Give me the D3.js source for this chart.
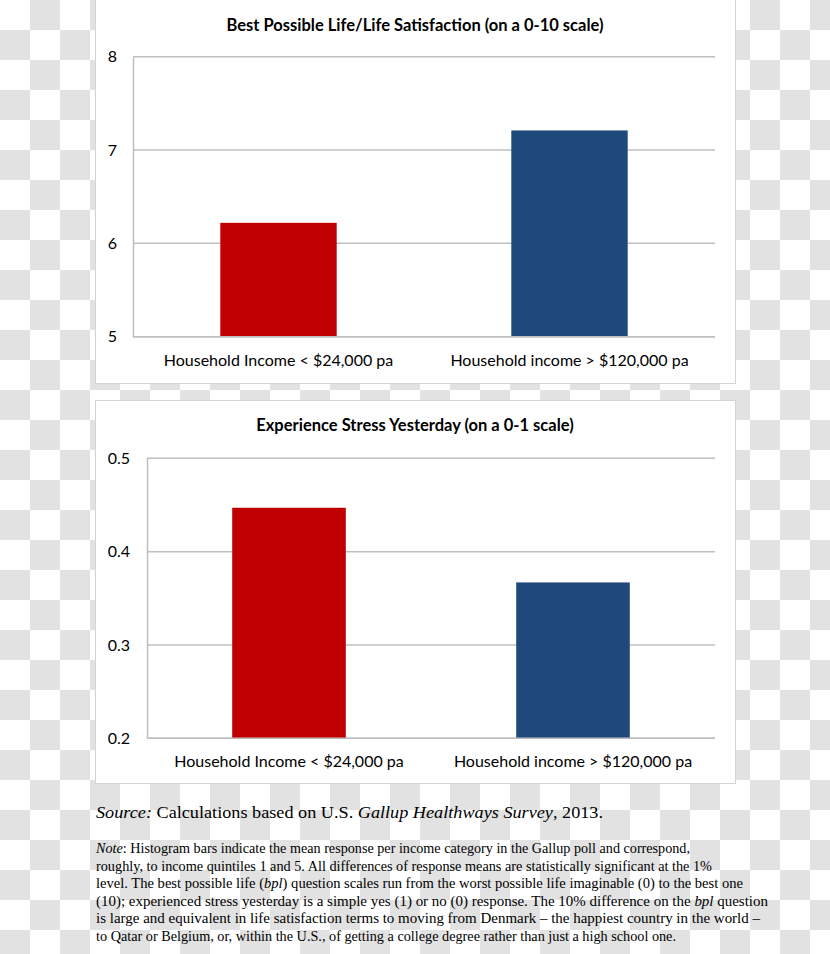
<!DOCTYPE html>
<html><head><meta charset="utf-8">
<script src="https://cdn.jsdelivr.net/npm/d3@7"></script>
<style>html,body{margin:0;padding:0;background:#fff;}svg{display:block;}</style>
</head><body>
<svg id="c" width="830" height="954"></svg>
<script>
const categories = ["Household Income < $24,000 pa", "Household income > $120,000 pa"];
const bplValues = [6.22, 7.21];
const stressValues = [0.447, 0.367];
const bplTicks = [5, 6, 7, 8];
const stressTicks = [0.2, 0.3, 0.4, 0.5];
const barColors = ["#C00000", "#1F497D"];
const titles = ["Best Possible Life/Life Satisfaction (on a 0-10 scale)", "Experience Stress Yesterday (on a 0-1 scale)"];
const sourceParts = [["Source:", true], [" Calculations based on U.S. ", false], ["Gallup Healthways Survey", true], [", 2013.", false]];
const noteLines = [
  [["Note", true], [": Histogram bars indicate the mean response per income category in the Gallup poll and correspond,", false]],
  [["roughly, to income quintiles 1 and 5. All differences of response means are statistically significant at the 1%", false]],
  [["level. The best possible life (", false], ["bpl", true], [") question scales run from the worst possible life imaginable (0) to the best one", false]],
  [["(10); experienced stress yesterday is a simple yes (1) or no (0) response. The 10% difference on the ", false], ["bpl", true], [" question", false]],
  [["is large and equivalent in life satisfaction terms to moving from Denmark \u2013 the happiest country in the world \u2013", false]],
  [["to Qatar or Belgium, or, within the U.S., of getting a college degree rather than just a high school one.", false]]
];
const noteWidths = [594, 616, 647, 672, 664, 580];

const svg = d3.select("#c");
// checkerboard background
const defs = svg.append("defs");
const pat = defs.append("pattern").attr("id","chk").attr("width",60).attr("height",60).attr("patternUnits","userSpaceOnUse");
pat.append("rect").attr("width",60).attr("height",60).attr("fill","#ffffff");
pat.append("rect").attr("x",30).attr("y",0).attr("width",30).attr("height",30).attr("fill","#e2e2e2");
pat.append("rect").attr("x",0).attr("y",30).attr("width",30).attr("height",30).attr("fill","#e2e2e2");
svg.append("rect").attr("width",830).attr("height",954).attr("fill","url(#chk)");

const font = "Lato, 'Open Sans', sans-serif";

function panel(cfg) {
  const g = svg.append("g");
  g.append("rect").attr("x", 95.5).attr("y", cfg.py0 + 0.5).attr("width", 640).attr("height", cfg.py1 - cfg.py0)
    .attr("fill", "#fff").attr("stroke", "#d4d4d4").attr("stroke-width", 1);
  g.append("text").attr("x", 415).attr("y", cfg.titleY).attr("text-anchor", "middle")
    .attr("font-family", font).attr("font-weight", "bold").attr("font-size", 16.5).attr("fill", "#000")
    .text(cfg.title);
  const y = d3.scaleLinear().domain(cfg.domain).range([cfg.y0, cfg.y1]);
  const x = d3.scaleBand().domain(categories).range([cfg.x0, 715]).paddingInner(0.6).paddingOuter(0.3);
  // gridlines
  g.append("g").selectAll("line").data(cfg.ticks).join("line")
    .attr("x1", cfg.x0).attr("x2", 715).attr("y1", d => y(d)).attr("y2", d => y(d))
    .attr("stroke", "#bfbfbf").attr("stroke-width", 1.5);
  // y axis
  const ya = d3.axisLeft(y).tickValues(cfg.ticks).tickSize(0).tickPadding(cfg.tickPad).tickFormat(cfg.fmt);
  const yg = g.append("g").attr("transform", `translate(${cfg.x0},0)`).call(ya);
  yg.select(".domain").attr("stroke", "#bfbfbf").attr("stroke-width", 1.5);
  yg.selectAll("text").attr("font-family", font).attr("font-size", 16).attr("fill", "#000");
  // bars
  g.append("g").selectAll("rect").data(cfg.values).join("rect")
    .attr("x", (d, i) => x(categories[i])).attr("width", x.bandwidth())
    .attr("y", d => y(d)).attr("height", d => y(cfg.domain[0]) - y(d))
    .attr("fill", (d, i) => barColors[i]);
  // baseline axis
  g.append("line").attr("x1", cfg.x0).attr("x2", 715).attr("y1", y(cfg.domain[0])).attr("y2", y(cfg.domain[0]))
    .attr("stroke", "#bfbfbf").attr("stroke-width", 1.5);
  // x axis labels
  const xa = d3.axisBottom(x).tickSize(0).tickPadding(cfg.labPad);
  const xg = g.append("g").attr("transform", `translate(0,${y(cfg.domain[0])})`).call(xa);
  xg.select(".domain").remove();
  xg.selectAll("text").attr("font-family", font).attr("font-size", 16).attr("fill", "#000");
}

panel({py0: -2, py1: 383, titleY: 31, title: titles[0], domain: [5, 8], ticks: bplTicks, y0: 336.7, y1: 56.7,
  x0: 133, values: bplValues, fmt: d3.format("d"), tickPad: 16, labPad: 18});
panel({py0: 400, py1: 783, titleY: 431, title: titles[1], domain: [0.2, 0.5], ticks: stressTicks, y0: 738.3, y1: 458.3,
  x0: 147, values: stressValues, fmt: d3.format(".1f"), tickPad: 17, labPad: 17});

function richLine(parts, x, yy, size, width) {
  const t = svg.append("text").attr("x", x).attr("y", yy).attr("font-family", "'Liberation Serif', 'Times New Roman', serif")
    .attr("font-size", size).attr("fill", "#000");
  if (width) t.attr("textLength", width).attr("lengthAdjust", "spacingAndGlyphs");
  parts.forEach(p => t.append("tspan").attr("font-style", p[1] ? "italic" : "normal").text(p[0]));
  return t;
}
richLine(sourceParts, 96, 818, 17.5, 507);
noteLines.forEach((ln, i) => richLine(ln, 96, 853 + i * 17.6, 14.5, noteWidths[i]));
</script>
</body></html>
